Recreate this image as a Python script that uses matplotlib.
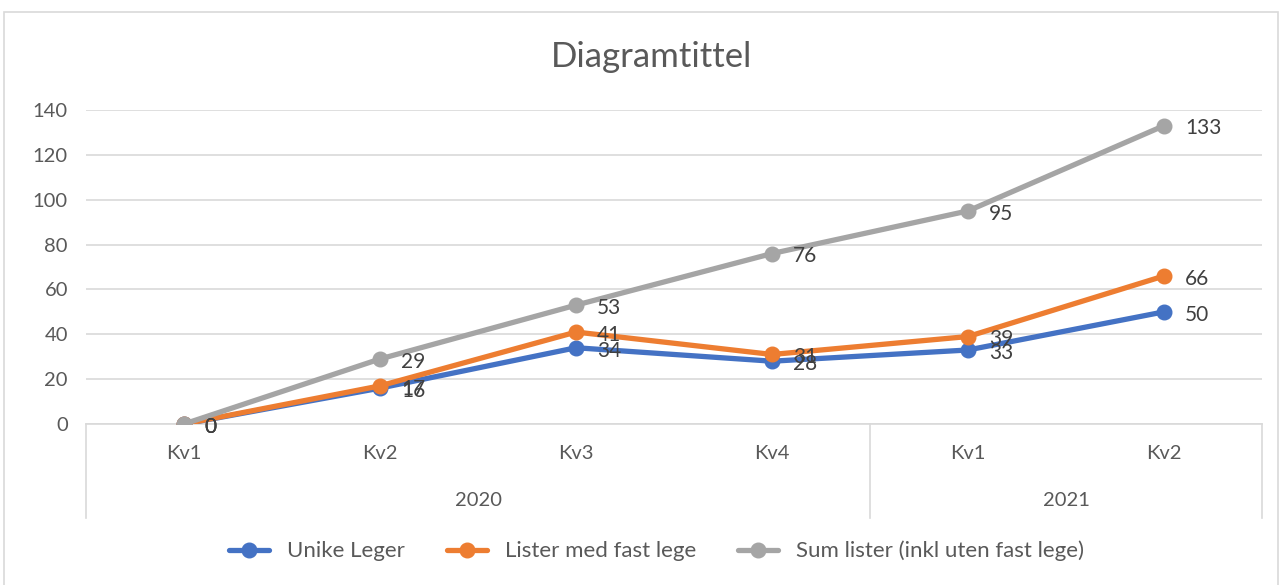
import numpy as np
import matplotlib.pyplot as plt
from matplotlib.lines import Line2D
from matplotlib.patches import Rectangle

plt.rcParams['font.family'] = ['Lato', 'DejaVu Sans']

# Données
kvartaler = ['Kv1', 'Kv2', 'Kv3', 'Kv4', 'Kv1', 'Kv2']
aar = ['2020', '2021']
aar_antall = [4, 2]
unike_leger = [0, 16, 34, 28, 33, 50]
lister_fast = [0, 17, 41, 31, 39, 66]
sum_lister = [0, 29, 53, 76, 95, 133]
serier = ['Unike Leger', 'Lister med fast lege', 'Sum lister (inkl uten fast lege)']
farger = ['#4472C4', '#ED7D31', '#A5A5A5']
tekst = '#595959'

fig = plt.figure(figsize=(12.82, 5.85), dpi=100)
fig.patches.append(Rectangle((0.003, -0.1), 0.994, 1.079, transform=fig.transFigure,
                             fill=False, edgecolor='#D9D9D9', linewidth=1.2))
ax = fig.add_axes([0.0671, 0.2752, 0.9173, 0.5368])

x = np.arange(len(kvartaler))
for verdier, farge, navn in zip([unike_leger, lister_fast, sum_lister], farger, serier):
    ax.plot(x, verdier, color=farge, linewidth=3.8, marker='o', markersize=10.5,
            solid_capstyle='round', label=navn, zorder=3)
    for xi, v in zip(x, verdier):
        ax.annotate(str(v), (xi, v), xytext=(15, -2), textcoords='offset points',
                    ha='left', va='center', fontsize=15, color='#404040', zorder=4)

ax.set_xlim(-0.5, len(x) - 0.5)
ax.set_ylim(0, 140)
ax.set_yticks(range(0, 141, 20))
ax.tick_params(axis='y', length=0, labelsize=14.5, labelcolor=tekst, pad=13)
ax.set_xticks([])
ax.grid(axis='y', color='#D9D9D9', linewidth=1.2)
ax.set_axisbelow(True)
for s in ['top', 'right', 'left']:
    ax.spines[s].set_visible(False)
ax.spines['bottom'].set_color('#D9D9D9')
ax.spines['bottom'].set_linewidth(1.2)

# Kategoriakse med to nivåer
trans = ax.get_xaxis_transform()
for xi, k in zip(x, kvartaler):
    ax.text(xi, -0.095, k, transform=trans, ha='center', va='center', fontsize=14.5,
            color=tekst, clip_on=False)
start = -0.5
grenser = [start]
for a, n in zip(aar, aar_antall):
    ax.text(start + n / 2, -0.245, a, transform=trans, ha='center', va='center',
            fontsize=14.5, color=tekst, clip_on=False)
    start += n
    grenser.append(start)
for g in grenser:
    ax.add_line(Line2D([g, g], [0, -0.298], transform=trans, color='#D9D9D9',
                       linewidth=1.2, clip_on=False))

fig.text(0.508, 0.902, 'Diagramtittel', ha='center', va='center', fontsize=25, color=tekst)

ax.legend(loc='center', bbox_to_anchor=(0.485, -0.405), ncol=3, frameon=False,
          fontsize=16, labelcolor=tekst, handlelength=1.8, handletextpad=0.8,
          columnspacing=1.9)

fig.savefig('out.png', dpi=100)
